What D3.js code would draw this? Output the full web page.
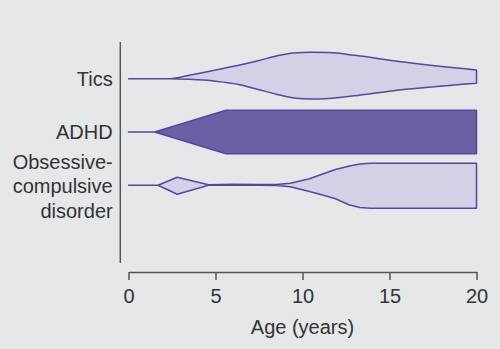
<!DOCTYPE html>
<html>
<head>
<meta charset="utf-8">
<script src="https://cdn.jsdelivr.net/npm/d3@7"></script>
<style>
  body { margin: 0; background: #e6e7e8; }
  text { font-family: "Liberation Sans", Arial, sans-serif; fill: #333; }
</style>
</head>
<body>
<div id="chart"></div>
<script>
// categories, top to bottom
var categories = ["Tics", "ADHD", "OCD"];
var labelLines = [["Tics"], ["ADHD"], ["Obsessive-", "compulsive", "disorder"]];
var xTicks = [0, 5, 10, 15, 20];

// half widths (px) above / below the centre line, read at each age
var ticsAge  = [0, 2.4, 3.5, 5, 6.4, 7.5, 8.5, 9.5, 10.5, 11.5, 13, 15, 20];
var ticsUp   = [0, 0, 3.5, 8.7, 13.7, 18.2, 22.7, 25.7, 26.4, 26.2, 23.4, 18.5, 8.7];
var ticsDown = [0, 0, 0.6, 2.5, 6, 11, 15.5, 19.3, 20.3, 19.8, 17, 12.5, 4.6];

var adhdAge  = [0, 1.5, 5.6, 20];
var adhdUp   = [0, 0, 21.8, 21.8];
var adhdDown = [0, 0, 21.8, 21.8];

var ocdAge  = [0, 1.7, 2.8, 4.6, 6, 7.5, 8.5, 9.3, 10.4, 11.2, 11.9, 12.7, 13.3, 13.9, 20];
var ocdUp   = [0, 0, 8, 0.5, 1, 0.7, 0.8, 2, 6.5, 11.5, 15.8, 19.3, 21.3, 22, 22];
var ocdDown = [0, 0, 9, 0, 0, 0, 0.3, 1.4, 6.2, 10, 13.5, 19.7, 22.3, 23, 23];

var series = [
    {name: "Tics", age: ticsAge, up: ticsUp, down: ticsDown, fill: "#d4d0e6", curve: d3.curveMonotoneX},
    {name: "ADHD", age: adhdAge, up: adhdUp, down: adhdDown, fill: "#6a60a4", curve: d3.curveLinear},
    {name: "OCD", age: ocdAge, up: ocdUp, down: ocdDown, fill: "#d4d0e6", curve: d3.curveLinear}
];

var width = 500, height = 349;

var svg = d3.select("#chart").append("svg")
            .attr("width", width)
            .attr("height", height);

svg.append("rect")
    .attr("width", width)
    .attr("height", height)
    .attr("fill", "#e6e7e8");

var x = d3.scaleLinear()
          .domain([0, 20])
          .range([128.5, 476.5]);

var y = d3.scalePoint()
          .domain(categories)
          .range([78.7, 185.3]);

// left axis line
svg.append("line")
    .attr("x1", 120.3).attr("x2", 120.3)
    .attr("y1", 42).attr("y2", 263)
    .style("stroke", "#555")
    .style("stroke-width", "1.5px");

// shapes
series.forEach(function(s){
    var cy = y(s.name);
    var pts = s.age.map(function(a, i){
        return {age: a, up: s.up[i], down: s.down[i]};
    });
    var area = d3.area()
                 .x(function(d){ return x(d.age); })
                 .y0(function(d){ return cy + d.down; })
                 .y1(function(d){ return cy - d.up; })
                 .curve(s.curve);
    svg.append("path")
        .datum(pts)
        .attr("d", area)
        .style("fill", s.fill)
        .style("stroke", "#54489c")
        .style("stroke-width", "1.5px")
        .style("stroke-linejoin", "round");
});

// category labels
var labelOffsets = [7, 6.5, 8];
categories.forEach(function(c, i){
    var t = svg.append("text")
               .attr("text-anchor", "end")
               .style("font-size", "20px");
    var lines = labelLines[i];
    lines.forEach(function(l, j){
        t.append("tspan")
         .attr("x", 112.7)
         .attr("y", y(c) + labelOffsets[i] + (j - (lines.length - 1) / 2) * 24.2)
         .text(l);
    });
});

// x axis
var xAxis = d3.axisBottom(x)
              .tickValues(xTicks)
              .tickSize(8)
              .tickSizeOuter(0)
              .tickPadding(9);

var gx = svg.append("g")
            .attr("transform", "translate(0,272)")
            .call(xAxis);
gx.selectAll("path, line")
  .style("stroke", "#555")
  .style("stroke-width", "1.5px");
gx.selectAll("text")
  .style("font-size", "20px")
  .style("font-family", "Liberation Sans, Arial, sans-serif")
  .style("fill", "#333");

svg.append("text")
    .attr("x", 302.5)
    .attr("y", 334)
    .attr("text-anchor", "middle")
    .style("font-size", "20px")
    .text("Age (years)");
</script>
</body>
</html>
